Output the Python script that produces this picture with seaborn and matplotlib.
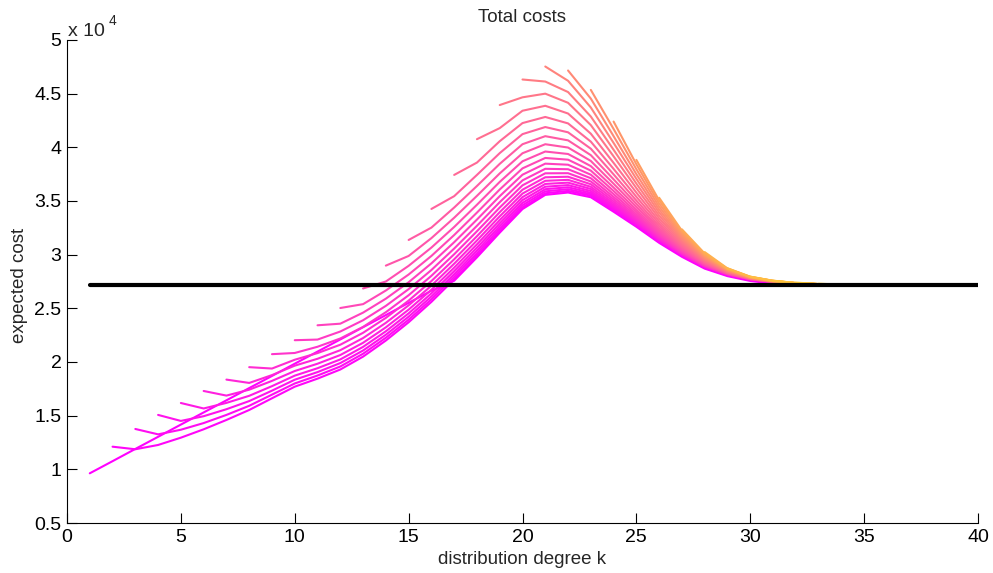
import pandas as pd
import matplotlib
matplotlib.use("Agg")
import matplotlib.pyplot as plt
import seaborn as sns

# Expected cost; curve n starts at distribution degree k = n
# (values for k = n .. 33, then the shared tail for k = 34 .. 40)
c01 = [9630, 10760, 11900, 13030, 14170, 15300, 16430, 17570, 18700, 19840, 20970, 22100, 23240, 24370,
       25510, 26640, 27570, 29750, 32050, 34250, 35570, 35790, 35350, 34000, 32600, 31100, 29800, 28700,
       28000, 27550, 27300, 27150, 27090]
c02 = [12110, 11870, 12270, 12950, 13730, 14600, 15530, 16620, 17700, 18450, 19300, 20500, 22000, 23700,
       25600, 27700, 29900, 32200, 34400, 35720, 35940, 35500, 34150, 32750, 31250, 29950, 28850, 28150,
       27700, 27450, 27300, 27240]
c03 = [13760, 13260, 13690, 14310, 15070, 15920, 16960, 18000, 18740, 19580, 20770, 22260, 23940, 25840,
       27930, 30120, 32410, 34600, 35900, 36100, 35630, 34250, 32820, 31290, 29970, 28860, 28160, 27700,
       27450, 27300, 27240]
c04 = [15070, 14510, 14950, 15600, 16360, 17330, 18350, 19060, 19900, 21070, 22540, 24220, 26100, 28180,
       30370, 32650, 34820, 36100, 36280, 35770, 34360, 32890, 31340, 30000, 28880, 28160, 27700, 27450,
       27300, 27240]
c05 = [16180, 15670, 16190, 16850, 17750, 18730, 19420, 20240, 21410, 22860, 24530, 26390, 28470, 30650,
       32920, 35080, 36330, 36480, 35930, 34480, 32980, 31390, 30030, 28890, 28170, 27710, 27450, 27300,
       27240]
c06 = [17300, 16870, 17420, 18240, 19160, 19840, 20650, 21790, 23230, 24880, 26730, 28790, 30960, 33220,
       35360, 36590, 36710, 36120, 34620, 33070, 31450, 30060, 28910, 28170, 27710, 27450, 27300, 27240]
c07 = [18360, 18050, 18780, 19660, 20300, 21100, 22230, 23650, 25280, 27110, 29160, 31320, 33570, 35690,
       36880, 36970, 36320, 34780, 33180, 31520, 30100, 28930, 28180, 27710, 27460, 27300, 27240]
c08 = [19520, 19390, 20210, 20830, 21610, 22720, 24110, 25720, 27540, 29570, 31720, 33960, 36050, 37210,
       37260, 36560, 34960, 33300, 31590, 30140, 28950, 28190, 27720, 27460, 27300, 27240]
c09 = [20730, 20840, 21420, 22190, 23270, 24640, 26220, 28030, 30040, 32180, 34390, 36460, 37580, 37590,
       36820, 35160, 33440, 31680, 30190, 28970, 28200, 27720, 27460, 27300, 27240]
c10 = [22030, 22090, 22840, 23890, 25230, 26790, 28570, 30570, 32690, 34890, 36920, 38000, 37960, 37120,
       35380, 33600, 31780, 30240, 29000, 28210, 27730, 27460, 27300, 27240]
c11 = [23420, 23570, 24600, 25900, 27430, 29190, 31160, 33270, 35450, 37450, 38480, 38380, 37450, 35640,
       33770, 31880, 30300, 29030, 28230, 27730, 27460, 27300, 27240]
c12 = [25030, 25390, 26660, 28150, 29880, 31830, 33920, 36070, 38040, 39010, 38850, 37830, 35930, 33970,
       32010, 30370, 29070, 28240, 27740, 27470, 27300, 27240]
c13 = [26850, 27500, 28960, 30660, 32580, 34650, 36780, 38700, 39610, 39380, 38250, 36250, 34190, 32140,
       30450, 29110, 28260, 27740, 27470, 27310, 27240]
c14 = [28980, 29880, 31540, 33440, 35480, 37570, 39450, 40290, 39980, 38730, 36610, 34450, 32300, 30540,
       29150, 28280, 27750, 27470, 27310, 27240]
c15 = [31370, 32520, 34390, 36400, 38460, 40290, 41040, 40650, 39270, 37020, 34730, 32470, 30630, 29200,
       28300, 27760, 27480, 27310, 27240]
c16 = [34260, 35450, 37430, 39460, 41230, 41890, 41400, 39870, 37480, 35040, 32670, 30740, 29260, 28320,
       27770, 27480, 27320, 27250]
c17 = [37430, 38580, 40570, 42260, 42830, 42230, 40530, 37990, 35390, 32890, 30860, 29320, 28350, 27780,
       27490, 27320, 27250]
c18 = [40760, 41790, 43410, 43870, 43150, 41270, 38550, 35780, 33120, 31000, 29390, 28380, 27790, 27490,
       27320, 27250]
c19 = [43940, 44660, 45000, 44150, 42070, 39160, 36200, 33380, 31140, 29470, 28410, 27810, 27500, 27320,
       27250]
c20 = [46320, 46130, 45150, 42870, 39770, 36620, 33640, 31290, 29540, 28440, 27820, 27510, 27330, 27250]
c21 = [47530, 46200, 43710, 40410, 37060, 33920, 31440, 29620, 28480, 27830, 27510, 27330, 27250]
c22 = [47160, 44540, 41040, 37500, 34190, 31590, 29700, 28510, 27850, 27520, 27330, 27250]
c23 = [45350, 41710, 37960, 34470, 31750, 29780, 28550, 27860, 27520, 27340, 27250]
c24 = [42400, 38420, 34760, 31910, 29860, 28580, 27880, 27530, 27340, 27250]
c25 = [38830, 35050, 32070, 29940, 28620, 27890, 27540, 27340, 27250]
c26 = [35300, 32230, 30030, 28650, 27900, 27540, 27350, 27260]
c27 = [32360, 30110, 28690, 27920, 27550, 27350, 27260]
c28 = [30240, 28720, 27930, 27560, 27350, 27260]
c29 = [28730, 27950, 27560, 27360, 27260]
c30 = [27950, 27570, 27360, 27260]
c31 = [27580, 27360, 27260]
c32 = [27400, 27260]
c33 = [27300]
tail_costs = [27200, 27190, 27190, 27190, 27190, 27190, 27190]   # k = 34 .. 40

reference_k = [1, 40]
reference_cost = [27183, 27183]

x_ticks = [0, 5, 10, 15, 20, 25, 30, 35, 40]
y_ticks = [5000, 10000, 15000, 20000, 25000, 30000, 35000, 40000, 45000, 50000]
y_tick_labels = ["0.5", "1", "1.5", "2", "2.5", "3", "3.5", "4", "4.5", "5"]

curves = [c01, c02, c03, c04, c05, c06, c07, c08, c09, c10, c11, c12, c13, c14, c15, c16, c17,
          c18, c19, c20, c21, c22, c23, c24, c25, c26, c27, c28, c29, c30, c31, c32, c33]

rows = []
for n, vals in enumerate(curves, start=1):
    ys = vals + tail_costs
    for i, y in enumerate(ys):
        rows.append((f"c{n:02d}", n + i, y))
df = pd.DataFrame(rows, columns=["curve", "k", "cost"])
order = [f"c{n:02d}" for n in range(1, len(curves) + 1)]

sns.set_theme(style="white")
plt.rcParams["font.family"] = ["Liberation Sans", "DejaVu Sans"]
palette = [plt.cm.spring((n - 1) / 39) for n in range(1, len(curves) + 1)]

fig = plt.figure(figsize=(9.93, 5.73), dpi=100)
ax = fig.add_axes([67 / 993, 1 - 523 / 573, (978 - 67) / 993, (523 - 40) / 573])
sns.lineplot(data=df, x="k", y="cost", hue="curve", hue_order=order, palette=palette,
             linewidth=1.5, legend=False, ax=ax, estimator=None, sort=False)
sns.lineplot(x=reference_k, y=reference_cost, color="black", linewidth=3, ax=ax)

ax.set_xlim(0, 40)
ax.set_ylim(5000, 50000)
ax.set_xticks(x_ticks)
ax.set_yticks(y_ticks)
ax.set_yticklabels(y_tick_labels)
ax.tick_params(direction="in", length=7, width=0.8, labelsize=14, colors="black", pad=4,
               bottom=True, left=True)
for s in ["top", "right"]:
    ax.spines[s].set_visible(False)
for s in ["left", "bottom"]:
    ax.spines[s].set_color("black")
    ax.spines[s].set_linewidth(0.8)
ax.set_xlabel("")
ax.set_ylabel("")
fig.text(522 / 993, 1 - 560 / 573, "distribution degree k", ha="center", va="center", fontsize=13.5)
fig.text(20 / 993, 1 - 285 / 573, "expected cost", ha="center", va="center", rotation=90, fontsize=13.5)
fig.text(522 / 993, 1 - 17 / 573, "Total costs", ha="center", va="center", fontsize=13.5)
fig.text(68 / 993, 1 - 36 / 573, "x 10", ha="left", va="baseline", fontsize=14)
fig.text(109 / 993, 1 - 25 / 573, "4", ha="left", va="baseline", fontsize=10)

fig.savefig("out.png", dpi=100)
